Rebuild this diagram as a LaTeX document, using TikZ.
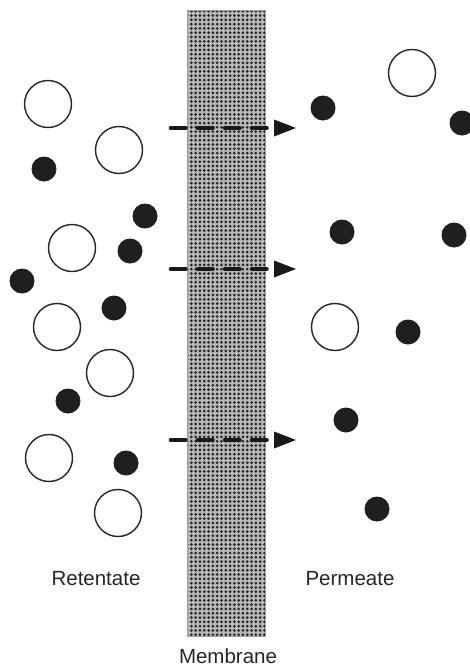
\documentclass[tikz,border=0pt]{standalone}
\usepackage{fontspec}
\setmainfont{Liberation Sans}
\usetikzlibrary{patterns,calc}

% fine dot texture of the membrane
\pgfdeclarepatternformonly{membranedots}
  {\pgfpoint{-0.5pt}{-0.5pt}}{\pgfpoint{4.8pt}{4.8pt}}{\pgfpoint{4.3pt}{4.3pt}}
  {\pgfpathcircle{\pgfpoint{2.15pt}{2.15pt}}{1.5pt}\pgfusepath{fill}}

\tikzset{
  solute/.style={circle, draw=black!85, line width=1.4pt, fill=white,
                 minimum size=47pt, inner sep=0pt},
  solvent/.style={circle, fill=black!88, draw=none,
                  minimum size=25pt, inner sep=0pt},
  flowdash/.style={line width=4.6pt, line cap=round, black!90,
                   dash pattern=on 14.5pt off 12.5pt},
  flowhead/.style={fill=black!90, draw=none},
  label/.style={font=\fontsize{20.5pt}{24pt}\selectfont, text=black!85,
                inner sep=0pt, anchor=base},
}

\begin{document}
\begin{tikzpicture}[x=1pt, y=-1pt]
\useasboundingbox (0,0) rectangle (470,667);

% membrane
\fill[gray!55] (187,10) rectangle (265,636);
\fill[pattern=membranedots, pattern color=black!85] (187,10) rectangle (265,636);
\draw[gray!75, line width=0.8pt] (187,10) rectangle (265,636);

% retentate side
\node[solute] (r1) at (48,104) {};
\node[solute] (r2) at (119,150) {};
\node[solute] (r3) at (72,248) {};
\node[solute] (r4) at (57,327) {};
\node[solute] (r5) at (110,373) {};
\node[solute] (r6) at (49,458) {};
\node[solute] (r7) at (118,513) {};
\node[solvent] (w1) at (44,169) {};
\node[solvent] (w2) at (145,216) {};
\node[solvent] (w3) at (130,251) {};
\node[solvent] (w4) at (22,281) {};
\node[solvent] (w5) at (114,308) {};
\node[solvent] (w6) at (68,401) {};
\node[solvent] (w7) at (126,463) {};

% permeate side
\node[solute] (p1) at (412,73) {};
\node[solute] (p2) at (335,327) {};
\node[solvent] (q1) at (323,108) {};
\node[solvent] (q2) at (462,123) {};
\node[solvent] (q3) at (342,232) {};
\node[solvent] (q4) at (454,235) {};
\node[solvent] (q5) at (408,332) {};
\node[solvent] (q6) at (346,420) {};
\node[solvent] (q7) at (377,509) {};

% flow arrows through the membrane
\foreach \k/\y in {1/128, 2/269, 3/440}{
  \coordinate (fs\k) at (171,\y);
  \coordinate (fe\k) at (296,\y);
  \draw[flowdash] (fs\k) -- ($(fe\k)+(-29,0)$);
  \fill[flowhead] (fe\k) -- ++(-22,-8.5) -- ++(0,17) -- cycle;
}

% labels
\node[label] (ret) at (96,585) {Retentate};
\node[label] (per) at (350,585) {Permeate};
\node[label] (mem) at (228,663) {Membrane};
\end{tikzpicture}
\end{document}
